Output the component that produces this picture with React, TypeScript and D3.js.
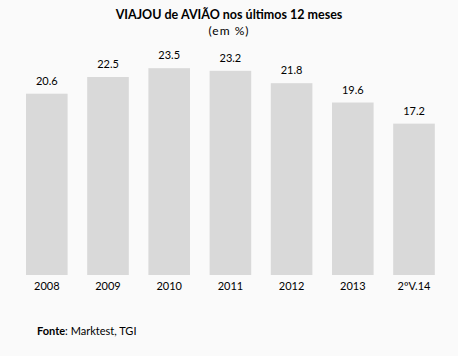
import React from "react";
import * as d3 from "d3";

const categories = ["2008", "2009", "2010", "2011", "2012", "2013", "2ºV.14"];
const values = [20.6, 22.5, 23.5, 23.2, 21.8, 19.6, 17.2];
const title = "VIAJOU de AVIÃO nos últimos 12 meses";
const subtitle = "(em %)";

export default function App() {
  const W = 458, H = 356;
  const x = d3.scaleBand<string>().domain(categories).range([16.2, 444.6]).paddingInner(0.32).paddingOuter(0.16);
  const y = d3.scaleLinear().domain([0, 25]).range([275, 55]);
  const font = "Lato, 'Open Sans', sans-serif";
  return (
    <svg width={W} height={H} style={{ position: "absolute", left: 0, top: 0 }} fontFamily={font}>
      <rect x={0} y={0} width={W} height={H} fill="#fafafa" />
      <text x={229} y={19} textAnchor="middle" fontSize={12.5} fontWeight="bold" fill="#000">{title}</text>
      <text x={229} y={35} textAnchor="middle" fontSize={12} letterSpacing={1} fill="#000">{subtitle}</text>
      {categories.map((c, i) => (
        <g key={c}>
          <rect x={x(c)} y={y(values[i])} width={x.bandwidth()} height={y(0) - y(values[i])} fill="#d9d9d9" />
          <text x={(x(c) as number) + x.bandwidth() / 2} y={y(values[i]) - 9} textAnchor="middle" fontSize={11} fill="#000">{values[i].toFixed(1)}</text>
          <text x={(x(c) as number) + x.bandwidth() / 2} y={290} textAnchor="middle" fontSize={11} fill="#000">{c}</text>
        </g>
      ))}
      <text x={37} y={335} fontSize={11} fill="#000"><tspan fontWeight="bold">Fonte</tspan>: Marktest, TGI</text>
    </svg>
  );
}
